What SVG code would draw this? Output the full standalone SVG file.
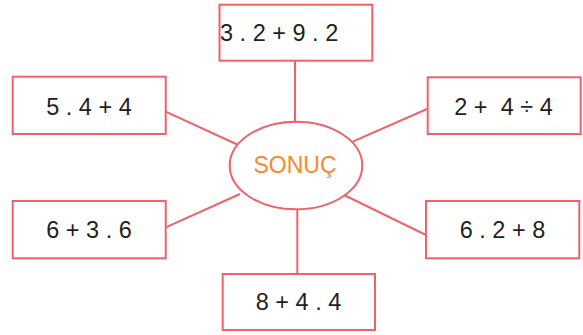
<svg xmlns="http://www.w3.org/2000/svg" width="583" height="335" viewBox="0 0 583 335">
<style>
.box{fill:#fff;stroke:#EE636B;stroke-width:2}
.ln{stroke:#EE636B;stroke-width:2;fill:none}
.t{font-family:"Liberation Sans",Arial,sans-serif;font-size:23.5px;fill:#231F20;text-anchor:middle}
.c{font-family:"Liberation Sans",Arial,sans-serif;font-size:23px;fill:#F7892A;text-anchor:middle}
</style>
<rect width="583" height="335" fill="#fff"/>
<g id="connectors">
<line class="ln" x1="295" y1="60.7" x2="295" y2="121.7"/>
<line class="ln" x1="297.3" y1="209.3" x2="297.3" y2="274"/>
<line class="ln" x1="165.7" y1="111.7" x2="238.3" y2="145"/>
<line class="ln" x1="165.7" y1="227.3" x2="240" y2="194"/>
<line class="ln" x1="352.7" y1="141.7" x2="427" y2="109"/>
<line class="ln" x1="344" y1="195" x2="426" y2="235"/>
</g>
<g id="center">
<ellipse class="box" cx="296" cy="165.5" rx="66.3" ry="43.8"/>
<text class="c" x="295" y="172.7">SONUÇ</text>
</g>
<g id="n-top">
<rect class="box" x="219.5" y="4.7" width="152.8" height="56"/>
<text class="t" x="220" y="41" style="text-anchor:start">3 . 2 + 9 . 2</text>
</g>
<g id="n-left-top">
<rect class="box" x="12.7" y="76.7" width="153" height="57.3"/>
<text class="t" x="89" y="115">5 . 4 + 4</text>
</g>
<g id="n-left-bottom">
<rect class="box" x="12.7" y="201" width="153" height="57.3"/>
<text class="t" x="89" y="238.3">6 + 3 . 6</text>
</g>
<g id="n-right-top">
<rect class="box" x="427.7" y="77.3" width="153" height="56.7"/>
<text class="t" x="503.5" y="115" xml:space="preserve">2 +  4 ÷ 4</text>
</g>
<g id="n-right-bottom">
<rect class="box" x="426" y="201" width="153.3" height="57.3"/>
<text class="t" x="502.5" y="238.3">6 . 2 + 8</text>
</g>
<g id="n-bottom">
<rect class="box" x="222.7" y="274" width="152.3" height="56"/>
<text class="t" x="298.5" y="310">8 + 4 . 4</text>
</g>
</svg>
